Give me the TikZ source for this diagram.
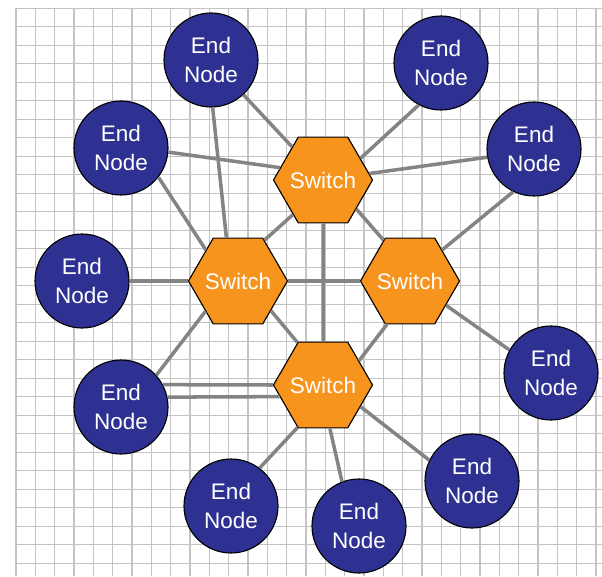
\documentclass[tikz,border=0pt]{standalone}
\usepackage{fontspec}
\newfontfamily\labelfont{Liberation Sans}
\usetikzlibrary{shapes.geometric}
\definecolor{endblue}{HTML}{2E3192}
\definecolor{switchorange}{HTML}{F7941D}
\definecolor{linkgray}{HTML}{848484}
\definecolor{gridgray}{HTML}{C4C4C4}
\begin{document}
\begin{tikzpicture}[font=\labelfont\fontsize{16}{20}\selectfont,
  gridline/.style={gridgray,line width=1pt},
  link/.style={linkgray,line width=2.5pt},
  endnode/.style={circle,draw=black,line width=.8pt,fill=endblue,text=white,minimum size=2.35cm,inner sep=0pt,align=center},
  switchnode/.style={regular polygon,regular polygon sides=6,draw=black,line width=.8pt,fill=switchorange,text=white,minimum size=2.475cm,inner sep=-12pt}]
\useasboundingbox (0,0) rectangle (15.05,14.4);
\draw[gridline] (0.4,0) -- (0.4,14.193);
\draw[gridline] (0.883,0) -- (0.883,14.193);
\draw[gridline] (1.367,0) -- (1.367,14.193);
\draw[gridline] (1.85,0) -- (1.85,14.193);
\draw[gridline] (2.333,0) -- (2.333,14.193);
\draw[gridline] (2.817,0) -- (2.817,14.193);
\draw[gridline] (3.3,0) -- (3.3,14.193);
\draw[gridline] (3.783,0) -- (3.783,14.193);
\draw[gridline] (4.267,0) -- (4.267,14.193);
\draw[gridline] (4.75,0) -- (4.75,14.193);
\draw[gridline] (5.233,0) -- (5.233,14.193);
\draw[gridline] (5.717,0) -- (5.717,14.193);
\draw[gridline] (6.2,0) -- (6.2,14.193);
\draw[gridline] (6.683,0) -- (6.683,14.193);
\draw[gridline] (7.167,0) -- (7.167,14.193);
\draw[gridline] (7.65,0) -- (7.65,14.193);
\draw[gridline] (8.133,0) -- (8.133,14.193);
\draw[gridline] (8.617,0) -- (8.617,14.193);
\draw[gridline] (9.1,0) -- (9.1,14.193);
\draw[gridline] (9.583,0) -- (9.583,14.193);
\draw[gridline] (10.067,0) -- (10.067,14.193);
\draw[gridline] (10.55,0) -- (10.55,14.193);
\draw[gridline] (11.033,0) -- (11.033,14.193);
\draw[gridline] (11.517,0) -- (11.517,14.193);
\draw[gridline] (12.0,0) -- (12.0,14.193);
\draw[gridline] (12.483,0) -- (12.483,14.193);
\draw[gridline] (12.967,0) -- (12.967,14.193);
\draw[gridline] (13.45,0) -- (13.45,14.193);
\draw[gridline] (13.933,0) -- (13.933,14.193);
\draw[gridline] (14.417,0) -- (14.417,14.193);
\draw[gridline] (14.9,0) -- (14.9,14.193);
\draw[gridline] (0.4,14.193) -- (15.05,14.193);
\draw[gridline] (0.4,13.731) -- (15.05,13.731);
\draw[gridline] (0.4,13.268) -- (15.05,13.268);
\draw[gridline] (0.4,12.806) -- (15.05,12.806);
\draw[gridline] (0.4,12.343) -- (15.05,12.343);
\draw[gridline] (0.4,11.881) -- (15.05,11.881);
\draw[gridline] (0.4,11.418) -- (15.05,11.418);
\draw[gridline] (0.4,10.956) -- (15.05,10.956);
\draw[gridline] (0.4,10.493) -- (15.05,10.493);
\draw[gridline] (0.4,10.031) -- (15.05,10.031);
\draw[gridline] (0.4,9.568) -- (15.05,9.568);
\draw[gridline] (0.4,9.106) -- (15.05,9.106);
\draw[gridline] (0.4,8.643) -- (15.05,8.643);
\draw[gridline] (0.4,8.181) -- (15.05,8.181);
\draw[gridline] (0.4,7.718) -- (15.05,7.718);
\draw[gridline] (0.4,7.256) -- (15.05,7.256);
\draw[gridline] (0.4,6.793) -- (15.05,6.793);
\draw[gridline] (0.4,6.331) -- (15.05,6.331);
\draw[gridline] (0.4,5.868) -- (15.05,5.868);
\draw[gridline] (0.4,5.406) -- (15.05,5.406);
\draw[gridline] (0.4,4.943) -- (15.05,4.943);
\draw[gridline] (0.4,4.481) -- (15.05,4.481);
\draw[gridline] (0.4,4.018) -- (15.05,4.018);
\draw[gridline] (0.4,3.556) -- (15.05,3.556);
\draw[gridline] (0.4,3.093) -- (15.05,3.093);
\draw[gridline] (0.4,2.631) -- (15.05,2.631);
\draw[gridline] (0.4,2.168) -- (15.05,2.168);
\draw[gridline] (0.4,1.706) -- (15.05,1.706);
\draw[gridline] (0.4,1.243) -- (15.05,1.243);
\draw[gridline] (0.4,0.781) -- (15.05,0.781);
\draw[gridline] (0.4,0.318) -- (15.05,0.318);
\node[switchnode] (sw1) at (8.075,9.9) {Switch};
\node[switchnode] (sw2) at (5.95,7.375) {Switch};
\node[switchnode] (sw3) at (10.25,7.375) {Switch};
\node[switchnode] (sw4) at (8.075,4.775) {Switch};
\node[endnode] (en1) at (5.275,12.9) {End\\Node};
\node[endnode] (en2) at (11.025,12.825) {End\\Node};
\node[endnode] (en3) at (3.025,10.7) {End\\Node};
\node[endnode] (en4) at (13.35,10.675) {End\\Node};
\node[endnode] (en5) at (2.05,7.375) {End\\Node};
\node[endnode] (en6) at (13.775,5.075) {End\\Node};
\node[endnode] (en7) at (3.025,4.225) {End\\Node};
\node[endnode] (en8) at (11.8,2.375) {End\\Node};
\node[endnode] (en9) at (5.775,1.75) {End\\Node};
\node[endnode] (en10) at (8.975,1.25) {End\\Node};
\draw[link] (en1) -- (sw1);
\draw[link] (en1.-88) -- (sw2.105);
\draw[link] (en2.-118) -- (sw1.30);
\draw[link] (en3.-5) -- (sw1.164);
\draw[link] (en3.-38) -- (sw2.136);
\draw[link] (en4.190) -- (sw1.8);
\draw[link] (en4.-116) -- (sw3.44);
\draw[link] (en5) -- (sw2);
\draw[link] (sw1) -- (sw4);
\draw[link] (sw1.-41) -- (sw3.123);
\draw[link] (sw1.-131) -- (sw2.57);
\draw[link] (sw2) -- (sw3);
\draw[link] (sw2.-42) -- (sw4.121);
\draw[link] (sw3.-118) -- (sw4.34);
\draw[link] (sw3.-34) -- (en6.151);
\draw[link] (sw4.-30) -- (en8.154);
\draw[link] (sw4.-81) -- (en10.111);
\draw[link] (sw4.-121) -- (en9.53);
\draw[link] (sw2.-137) -- (en7.42);
\draw[link] (en7.28) -- (sw4.180);
\draw[link] (en7.12) -- (sw4.195);
\end{tikzpicture}
\end{document}
